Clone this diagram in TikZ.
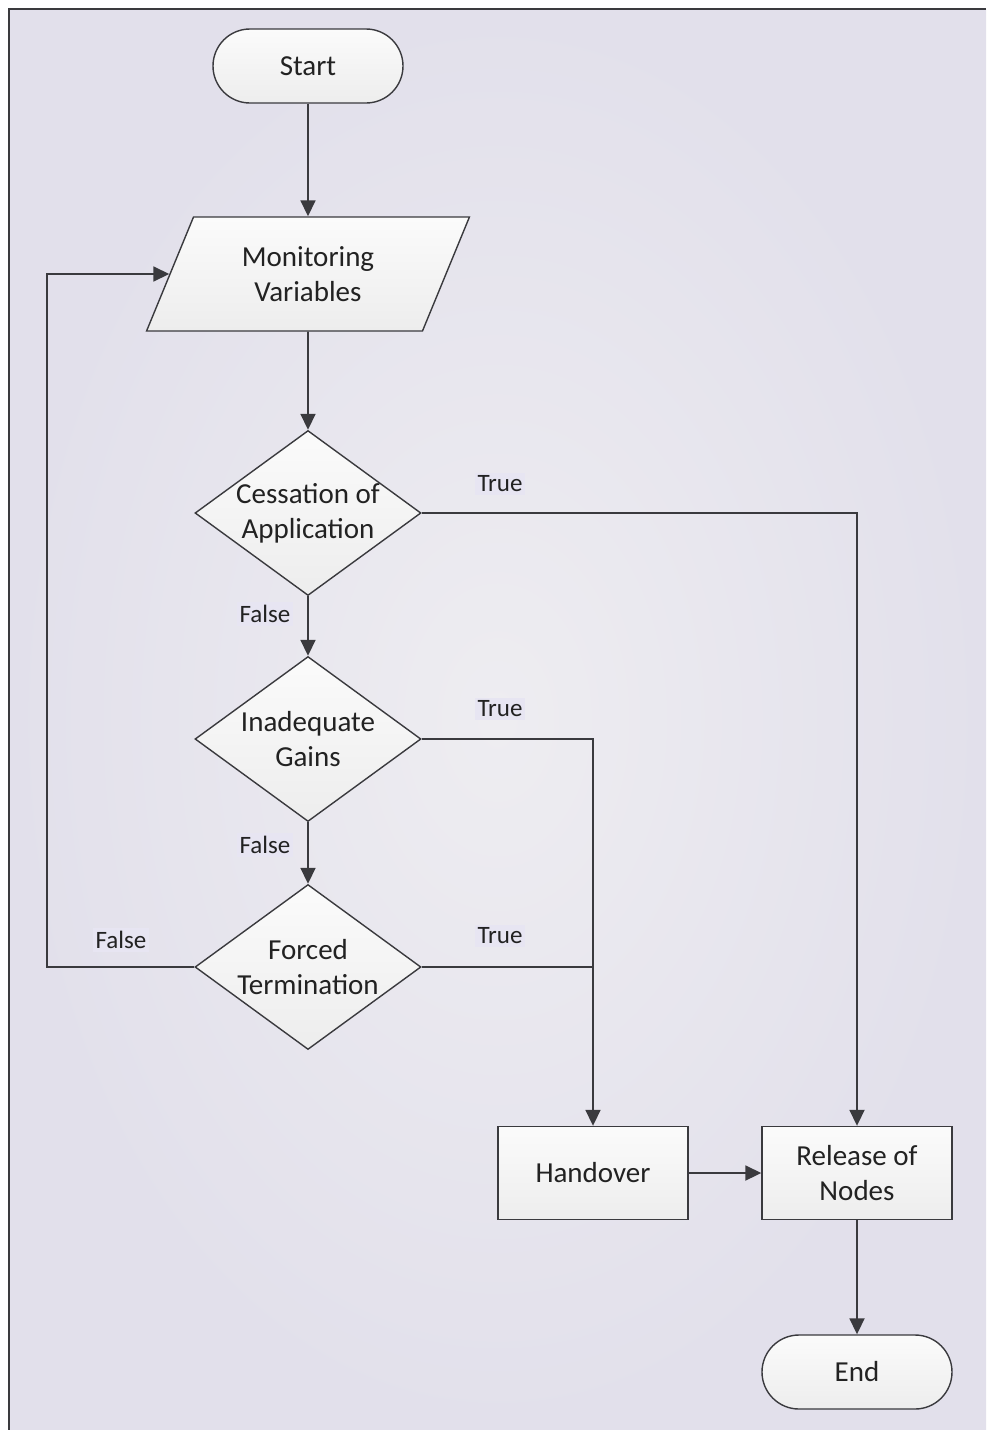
\documentclass[tikz,border=0pt]{standalone}
\usepackage{fontspec}
\setmainfont{Carlito}
\usetikzlibrary{shapes.geometric,arrows.meta}

\definecolor{bgouter}{HTML}{E2E0EB}
\definecolor{bginner}{HTML}{EEEDF1}
\definecolor{ink}{HTML}{3A3A3E}
\definecolor{framec}{HTML}{3A3A3E}
\definecolor{boxtop}{HTML}{FBFBFB}
\definecolor{boxbot}{HTML}{EDEDED}
\definecolor{tagbg}{HTML}{E7E5F2}
\definecolor{txt}{HTML}{222222}

\begin{document}
\begin{tikzpicture}[x=1pt,y=-1pt,
  flow/.style={draw=ink, line width=1.4pt, top color=boxtop, bottom color=boxbot,
    inner sep=0pt, text=txt, align=center, font=\fontsize{29}{35}\selectfont},
  terminal/.style={flow, rectangle, rounded corners=37pt,
    minimum width=190pt, minimum height=74pt},
  process/.style={flow, rectangle, minimum width=190pt, minimum height=93pt},
  iobox/.style={flow, trapezium, trapezium left angle=63.8, trapezium right angle=116.2,
    trapezium stretches=true, minimum width=323pt, minimum height=114pt},
  decision/.style={flow, diamond, minimum width=226pt, minimum height=165pt},
  dtext/.style={text=txt, align=center, inner sep=0pt, font=\fontsize{29}{35}\selectfont},
  tag/.style={fill=tagbg, text=txt, inner sep=3pt, font=\fontsize{25}{30}\selectfont},
  wire/.style={draw=ink, line width=1.8pt},
  conn/.style={wire, -{Triangle[length=16pt,width=15pt]}}
]
\useasboundingbox (0,0) rectangle (986,1430);

% page background and frame
\fill[white] (0,0) rectangle (986,1430);
\shade[inner color=bginner, outer color=bgouter] (9,9) rectangle (986,1430);
\draw[framec, line width=2.6pt] (9,1430) -- (9,9) -- (986,9);

% nodes
\node[terminal] (start) at (308,66) {Start};
\node[iobox] (mon) at (308,274) {Monitoring\\Variables};

\node[decision] (d1) at (308,513) {};
\node[dtext] (d1t) at (d1) {Cessation of\\Application};
\node[decision] (d2) at (308,739) {};
\node[dtext] (d2t) at (d2) {Inadequate\\Gains};
\node[decision] (d3) at (308,967) {};
\node[dtext] (d3t) at (d3) {Forced\\Termination};

\node[process] (hand) at (593,1173) {Handover};
\node[process] (rel) at (857,1173) {Release of\\Nodes};
\node[terminal] (fin) at (857,1372) {End};

% branch labels
\node[tag] (t1) at (500,484) {True};
\node[tag] (t2) at (500,709) {True};
\node[tag] (t3) at (500,936) {True};
\node[tag] (f1) at (265,614) {False};
\node[tag] (f2) at (265,845) {False};
\node[tag] (f3) at (121,940) {False};

% connectors
\coordinate (loop) at (47,967);
\draw[conn] (start) -- (mon);
\draw[conn] (mon) -- (d1);
\draw[conn] (d1) -- (d2);
\draw[conn] (d2) -- (d3);
\draw[conn] (d3.west) -- (loop) |- (mon.left side);
\draw[conn] (d1.east) -| (rel.north);
\draw[conn] (d2.east) -| (hand.north);
\draw[wire] (d3.east) -- (d3.east -| hand.north);
\draw[conn] (hand) -- (rel);
\draw[conn] (rel) -- (fin);
\end{tikzpicture}
\end{document}
